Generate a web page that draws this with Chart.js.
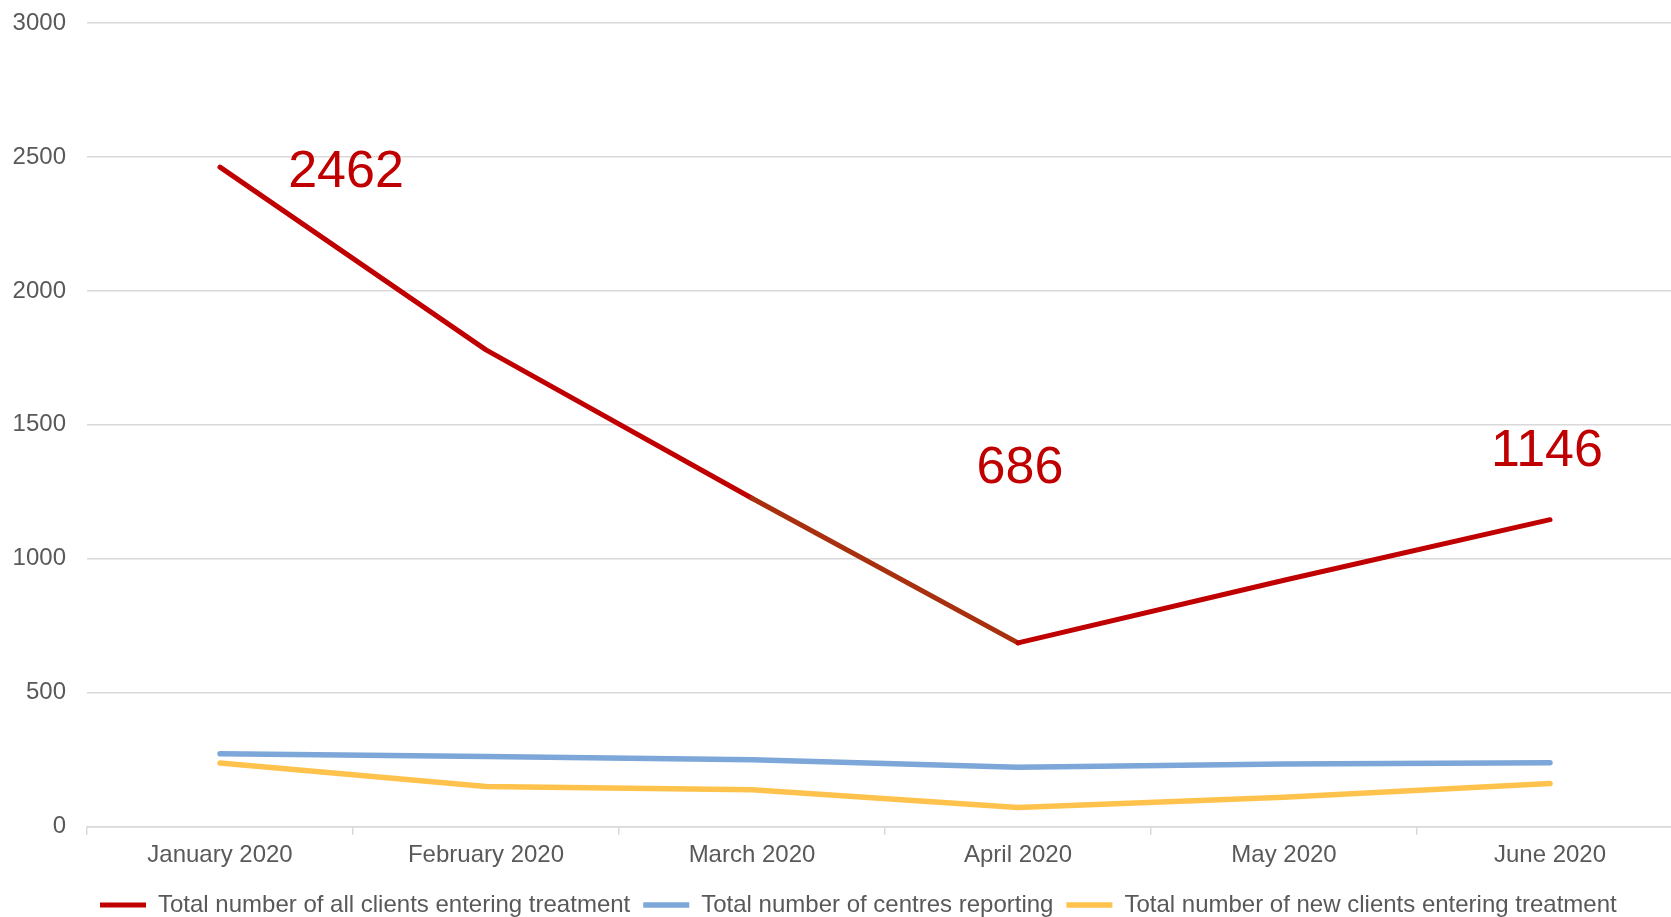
<!DOCTYPE html>
<html>
<head>
<meta charset="utf-8">
<script src="https://cdn.jsdelivr.net/npm/chart.js@4.4.1/dist/chart.umd.min.js"></script>
<style>
    html, body { margin: 0; padding: 0; background: #fff; overflow: hidden; }
    #wrap { position: relative; width: 1683px; height: 927px; }
</style>
</head>
<body>
<div id="wrap"><canvas id="chart"></canvas></div>
<script>
// Data
const months = ['January 2020', 'February 2020', 'March 2020', 'April 2020', 'May 2020', 'June 2020'];
const allClients = [2462, 1780, 1226, 686, 920, 1146];
const centresReporting = [272, 262, 250, 222, 234, 239];
const newClients = [238, 150, 138, 72, 110, 161];
const yTicks = [0, 500, 1000, 1500, 2000, 2500, 3000];

// Which points of the red series carry a big value label, and where it sits
const labelledPoints = [
    { index: 0, dx: 126, dy: 6 },
    { index: 3, dx: 2, dy: -174 },
    { index: 5, dx: -3, dy: -68 }
];

const textColor = '#595959';
const gridColor = '#d9d9d9';
const fontFamily = '"Liberation Sans", Arial, sans-serif';

// Draws the large red value labels next to the chosen points
const valueLabels = {
    id: 'valueLabels',
    afterDatasetsDraw(chart) {
        const meta = chart.getDatasetMeta(0);
        const ctx = chart.ctx;
        ctx.save();
        ctx.font = '52px ' + fontFamily;
        ctx.fillStyle = '#C00000';
        ctx.textAlign = 'center';
        ctx.textBaseline = 'middle';
        labelledPoints.forEach(p => {
            const pt = meta.data[p.index];
            ctx.fillText(String(allClients[p.index]), pt.x + p.dx, pt.y + p.dy);
        });
        ctx.restore();
    }
};

const ctx = document.getElementById('chart').getContext('2d');
new Chart(ctx, {
    type: 'line',
    data: {
        labels: months,
        datasets: [{
            label: 'Total number of all clients entering treatment',
            data: allClients,
            borderColor: '#C00000',
            backgroundColor: '#C00000',
            borderWidth: 5,
            segment: {
                borderColor: c => c.p0DataIndex === 2 ? '#A8300F' : undefined
            }
        }, {
            label: 'Total number of centres reporting',
            data: centresReporting,
            borderColor: '#7DA7D9',
            backgroundColor: '#7DA7D9',
            borderWidth: 5.5
        }, {
            label: 'Total number of new clients entering treatment',
            data: newClients,
            borderColor: '#FFC34D',
            backgroundColor: '#FFC34D',
            borderWidth: 5.5
        }]
    },
    options: {
        responsive: true,
        maintainAspectRatio: false,
        animation: false,
        datasets: {
            line: {
                pointRadius: 0,
                pointHoverRadius: 0,
                tension: 0,
                borderCapStyle: 'round',
                borderJoinStyle: 'round'
            }
        },
        layout: {
            padding: { left: 12, right: 0, top: 23, bottom: 0 }
        },
        plugins: {
            tooltip: { enabled: false },
            legend: {
                position: 'bottom',
                align: 'start',
                fullSize: false,
                labels: {
                    usePointStyle: true,
                    pointStyle: 'line',
                    pointStyleWidth: 46,
                    boxHeight: 5,
                    padding: 13,
                    color: textColor,
                    font: { family: fontFamily, size: 24 }
                }
            }
        },
        scales: {
            x: {
                offset: true,
                afterFit: axis => { axis.height += 4.5; },
                grid: {
                    offset: true,
                    drawOnChartArea: false,
                    drawTicks: true,
                    tickLength: 8,
                    color: gridColor,
                    lineWidth: 1.5
                },
                border: { color: gridColor, width: 1.5 },
                ticks: {
                    color: textColor,
                    padding: 6,
                    maxRotation: 0,
                    font: { family: fontFamily, size: 24 }
                }
            },
            y: {
                min: 0,
                max: 3000,
                afterBuildTicks: axis => {
                    axis.ticks = yTicks.map(v => ({ value: v }));
                },
                afterFit: axis => {
                    axis.width = 75;
                    axis.paddingTop = 12;
                    axis.paddingBottom = 12;
                },
                grid: {
                    color: gridColor,
                    lineWidth: 1.5,
                    drawTicks: false
                },
                border: { display: false },
                ticks: {
                    color: textColor,
                    padding: 21,
                    callback: v => String(v),
                    font: { family: fontFamily, size: 24 }
                }
            }
        }
    },
    plugins: [valueLabels]
});
</script>
</body>
</html>
